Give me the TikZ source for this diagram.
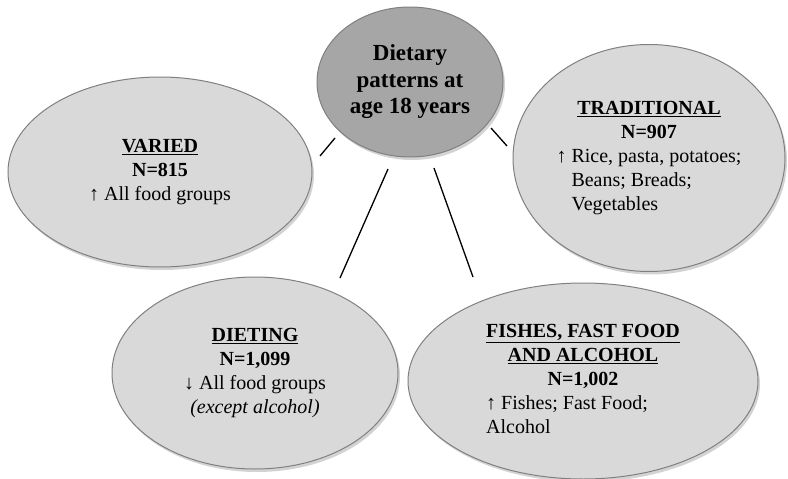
\documentclass[tikz,border=0pt]{standalone}
\usepackage{fontspec}
\setmainfont{Liberation Serif}
\usetikzlibrary{shapes.geometric,shadows}
\definecolor{darkfill}{HTML}{A6A6A6}
\definecolor{lightfill}{HTML}{D9D9D9}
\definecolor{rimgray}{HTML}{808080}

\begin{document}
\begin{tikzpicture}[x=1pt,y=-1pt,
    dietgroup/.style={ellipse,draw=rimgray,line width=1pt,fill=lightfill,inner sep=0pt,
                      drop shadow={opacity=.35,shadow xshift=2pt,shadow yshift=-3pt},
                      font=\fontsize{20}{24}\selectfont,align=center},
    spoke/.style={line width=1.3pt}]
\useasboundingbox (0,0) rectangle (788,479);
% outer patterns
\node[dietgroup,minimum width=304,minimum height=190] (varied) at (160,172)
     {\underline{\textbf{VARIED}}\\ \textbf{N=815}\\ ↑ All food groups};
\node[dietgroup,minimum width=272,minimum height=227] (trad) at (649,158)
     {\begin{tabular}{@{}l@{}}
      \multicolumn{1}{@{}c@{}}{\underline{\textbf{TRADITIONAL}}}\\
      \multicolumn{1}{@{}c@{}}{\textbf{N=907}}\\
      ↑ Rice, pasta, potatoes;\\
      \phantom{↑} Beans; Breads;\\
      \phantom{↑} Vegetables
      \end{tabular}};
\node[dietgroup,minimum width=286,minimum height=192] (dieting) at (255,373)
     {\underline{\textbf{DIETING}}\\ \textbf{N=1,099}\\ ↓ All food groups\\ \textit{(except alcohol)}};
\node[dietgroup,minimum width=350,minimum height=196] (fish) at (583,381)
     {\begin{tabular}{@{}l@{}}
      \multicolumn{1}{@{}c@{}}{\underline{\textbf{FISHES, FAST FOOD}}}\\
      \multicolumn{1}{@{}c@{}}{\underline{\textbf{AND ALCOHOL}}}\\
      \multicolumn{1}{@{}c@{}}{\textbf{N=1,002}}\\
      ↑ Fishes; Fast Food;\\
      Alcohol
      \end{tabular}};
% centre
\node[dietgroup,fill=darkfill,minimum width=186,minimum height=150,
      font=\fontsize{23}{26.5}\selectfont\bfseries] (centre) at (410,82)
     {Dietary\\ patterns at\\ age 18 years};
% spokes
\coordinate (v1) at (335,138); \coordinate (v2) at (320,156);
\coordinate (d1) at (388,169); \coordinate (d2) at (340,278);
\coordinate (f1) at (434,168); \coordinate (f2) at (473,277);
\coordinate (t1) at (491,128); \coordinate (t2) at (507,146);
\draw[spoke] (v1) -- (v2);
\draw[spoke] (d1) -- (d2);
\draw[spoke] (f1) -- (f2);
\draw[spoke] (t1) -- (t2);
\end{tikzpicture}
\end{document}
